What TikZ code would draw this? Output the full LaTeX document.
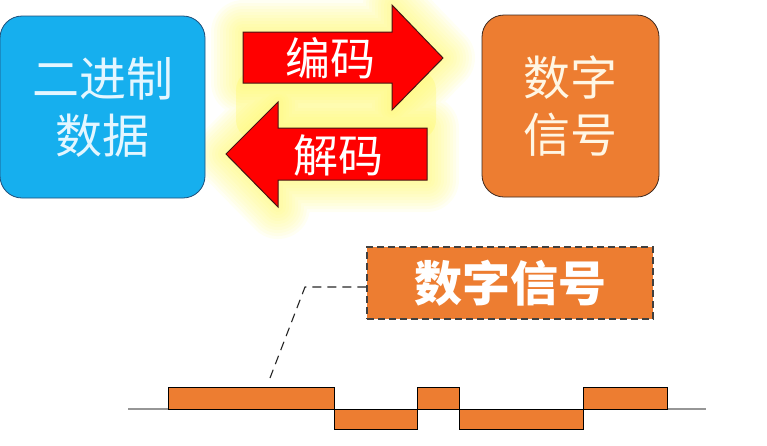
\documentclass[tikz,border=0pt]{standalone}
\usepackage{fontspec}
\newfontfamily\cjk{Noto Sans CJK SC}
\definecolor{blueF}{RGB}{22,175,238}
\definecolor{blueD}{RGB}{31,78,121}
\definecolor{blueT}{RGB}{228,246,255}
\definecolor{orangeF}{RGB}{237,125,49}
\definecolor{orangeD}{RGB}{60,40,30}
\definecolor{orangeT}{RGB}{255,246,228}
\definecolor{redF}{RGB}{255,0,0}
\definecolor{redD}{RGB}{70,20,20}
\definecolor{glowC}{RGB}{255,248,90}
\definecolor{lineG}{RGB}{150,150,150}
\begin{document}
\begin{tikzpicture}[x=1pt,y=-1pt,
  bigbox/.style={rounded corners=22pt, line width=0.8pt, minimum width=205pt, minimum height=182pt, inner sep=0pt, align=center, font=\cjk\fontsize{47}{57}\selectfont},
  arrowshape/.style={fill=redF, draw=redD, line width=1pt, line join=miter},
  arrowtext/.style={text=white, font=\cjk\fontsize{45}{50}\selectfont, inner sep=0pt},
  glowline/.style={draw=glowC, fill=glowC, opacity=0.07, line join=round},
  wave/.style={fill=orangeF, draw=black, line width=1pt},
  callout/.style={fill=orangeF, draw=black!75, dashed, dash pattern=on 7pt off 4pt, line width=1.2pt, minimum width=286pt, minimum height=72pt, text=white, font=\cjk\bfseries\fontsize{48}{50}\selectfont},
  leader/.style={draw=black!85, line width=1.1pt, dash pattern=on 9pt off 6pt}
]
\useasboundingbox (0,0) rectangle (767,445);
% glow
\foreach \w in {64,58,...,4}{
  \path[glowline, line width=\w pt]
    (243,32) -- (392,32) -- (392,5) -- (443,58) -- (392,110) -- (392,83) -- (243,83) -- cycle
    (427,128) -- (278,128) -- (278,102) -- (226,154) -- (278,207) -- (278,180) -- (427,180) -- cycle;
}
\fill[glowC, opacity=0.3, rounded corners=20pt] (236,70) rectangle (436,140);
% boxes
\node[bigbox, fill=blueF, draw=blueD, text=blueT] (bin) at (102.5,107) {二进制\\数据};
\node[bigbox, fill=orangeF, draw=orangeD, text=orangeT, minimum width=177pt] (sig) at (570.5,106) {数字\\信号};
% arrows
\draw[arrowshape] (243,32) -- (392,32) -- (392,5) -- (443,58) -- (392,110) -- (392,83) -- (243,83) -- cycle;
\draw[arrowshape] (427,128) -- (278,128) -- (278,102) -- (226,154) -- (278,207) -- (278,180) -- (427,180) -- cycle;
\node[arrowtext] (enc) at (330,58) {编码};
\node[arrowtext] (dec) at (338,155) {解码};
% callout
\node[callout] (lab) at (510,283) {数字信号};
\coordinate (bend) at (305,287);
\coordinate (tip) at (270,378);
\draw[leader] (lab.west |- bend) -- (bend) -- (tip);
% waveform
\draw[lineG, line width=1.2pt] (128,409) -- (168,409);
\draw[lineG, line width=1.2pt] (667,409) -- (706,409);
\draw[wave] (168,387) rectangle (334,409);
\draw[wave] (334,409) rectangle (417,429);
\draw[wave] (417,387) rectangle (459,409);
\draw[wave] (459,409) rectangle (583,429);
\draw[wave] (583,387) rectangle (667,409);
\end{tikzpicture}
\end{document}
